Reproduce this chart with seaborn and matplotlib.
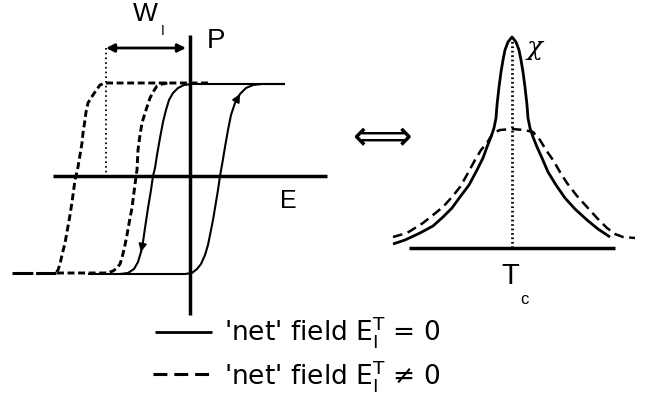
import numpy as np
import matplotlib
matplotlib.use("Agg")
import matplotlib.pyplot as plt
import seaborn as sns

# values read off the schematic (image pixel space, y grows downward)
# hysteresis loop, 'net' field = 0 (solid)
solid_down_x = [285, 257, 192, 184, 178, 173, 169, 166, 163, 160, 157, 155, 153, 151, 148, 145, 143, 141, 138, 134, 128, 120]
solid_down_y = [84, 84, 84, 85, 88, 93, 100, 110, 122, 138, 155, 168, 176, 190, 208, 228, 242, 252, 262, 269, 273, 274]
solid_up_x = [88, 185, 192, 197, 201, 205, 208, 210, 213, 215, 218, 220, 222, 225, 228, 231, 235, 240, 246, 253, 262, 285]
solid_up_y = [274, 274, 273, 269, 264, 255, 245, 235, 220, 208, 190, 176, 165, 147, 130, 115, 103, 94, 88, 85, 84, 84]

# hysteresis loop, 'net' field != 0 (dashed), shifted by W_I
dash_down_x = [208, 105, 100, 95, 91, 88, 86, 85, 83, 82, 80, 78, 76, 75, 73, 72, 70, 67, 65, 62, 60, 58, 56]
dash_down_y = [83, 83, 85, 92, 98, 103, 112, 120, 133, 143, 155, 167, 176, 180, 195, 202, 215, 232, 243, 255, 264, 270, 273]
dash_up_x = [57, 107, 113, 117, 120, 122, 125, 127, 130, 132, 134, 135, 136, 137, 138, 140, 142, 145, 147, 150, 153, 157, 162, 168]
dash_up_y = [273, 273, 271, 268, 264, 258, 245, 235, 218, 208, 192, 185, 176, 170, 150, 135, 123, 113, 107, 98, 92, 86, 84, 83]
dash_tail_x = [12, 56]
dash_tail_y = [273, 273]

# susceptibility chi(T)
chi_solid_x = [393, 405, 420, 433, 443, 452, 460, 469, 477, 483, 487, 491, 494, 496, 497, 499, 501, 503, 505, 508, 512,
               516, 519, 521, 523, 525, 527, 528, 530, 533, 537, 542, 548, 556, 565, 575, 587, 598, 610]
chi_solid_y = [244, 240, 233, 226, 217, 208, 197, 185, 170, 158, 147, 137, 128, 118, 105, 87, 72, 60, 50, 42, 37,
               42, 50, 60, 72, 87, 105, 118, 128, 137, 147, 158, 172, 185, 198, 209, 220, 229, 237]
chi_dash_x = [393, 407, 423, 433, 443, 452, 460, 468, 475, 481, 487, 493, 500, 512, 524, 533, 540, 546, 553, 560,
              567, 577, 587, 597, 607, 615, 623, 635]
chi_dash_y = [237, 233, 223, 215, 207, 197, 187, 173, 160, 150, 143, 133, 130, 129, 130, 132, 140, 150, 160, 172,
              183, 196, 207, 218, 228, 234, 237, 238]

legend_labels = ["'net' field E$_I^T$ = 0", "'net' field E$_I^T$ ≠ 0"]

sns.set_theme(style="white")
plt.rcParams["font.family"] = ["Liberation Sans", "DejaVu Sans"]
plt.rcParams["text.color"] = "black"
plt.rcParams["mathtext.default"] = "regular"
plt.rcParams["lines.scale_dashes"] = False
plt.rcParams["lines.solid_capstyle"] = "butt"

fig = plt.figure(figsize=(6.57, 4.09), dpi=100)
ax = fig.add_axes([0, 0, 1, 1])
ax.set_xlim(0, 657)
ax.set_ylim(409, 0)
ax.axis("off")

k = "black"
# axes of the P-E panel
ax.plot([53, 327], [176, 176], color=k, lw=2.5)
ax.plot([190, 190], [35, 315], color=k, lw=2.5)

# loops
for xs, ys in [(solid_down_x, solid_down_y), (solid_up_x, solid_up_y)]:
    sns.lineplot(x=xs, y=ys, sort=False, estimator=None, color=k, lw=1.5, ax=ax)
for xs, ys in [(dash_down_x, dash_down_y), (dash_up_x, dash_up_y)]:
    sns.lineplot(x=xs, y=ys, sort=False, estimator=None, color=k, lw=2.1,
                 linestyle=(0, (5, 2.6)), ax=ax)
sns.lineplot(x=dash_tail_x, y=dash_tail_y, sort=False, estimator=None, color=k, lw=2.2,
             linestyle=(0, (15, 2)), ax=ax)

# direction arrows on the solid loop
for xs, ys, i in [(solid_down_x, solid_down_y, 16), (solid_up_x, solid_up_y, 16)]:
    ax.annotate("", xy=(xs[i + 1], ys[i + 1]), xytext=(xs[i], ys[i]),
                arrowprops=dict(arrowstyle="-|>", color=k, lw=1.2, mutation_scale=12,
                                shrinkA=0, shrinkB=0))

# W_I offset marker
ax.plot([106, 106], [48, 176], color=k, lw=1.3, linestyle=(0, (1.2, 2.2)))
ax.annotate("", xy=(106, 48), xytext=(186, 48),
            arrowprops=dict(arrowstyle="<|-|>", color=k, lw=2.0, mutation_scale=12,
                            shrinkA=0, shrinkB=0))

ax.text(145, 14, "W", fontsize=19, ha="center", va="center")
ax.text(163, 31, "I", fontsize=10, ha="center", va="center")
ax.text(216, 41, "P", fontsize=20, ha="center", va="center")
ax.text(288, 201, "E", fontsize=18, ha="center", va="center")

# chi(T) panel
ax.plot([409, 615], [248, 248], color=k, lw=2.5)
ax.plot([512, 512], [37, 248], color=k, lw=2.0, linestyle=(0, (1.2, 2.0)))
sns.lineplot(x=chi_solid_x, y=chi_solid_y, sort=False, estimator=None, color=k, lw=2.0, ax=ax)
sns.lineplot(x=chi_dash_x, y=chi_dash_y, sort=False, estimator=None, color=k, lw=1.8,
             linestyle=(0, (7, 4)), ax=ax)
ax.text(535, 48, "χ", fontsize=19, ha="center", va="center", family="DejaVu Serif", style="italic")
ax.text(510, 276, "T", fontsize=21, ha="center", va="center")
ax.text(524, 300, "c", fontsize=12, ha="center", va="center")

ax.text(383, 138, "⟺", fontsize=30, ha="center", va="center", family="DejaVu Sans")

# legend
ax.plot([155, 212], [332, 332], color=k, lw=2.0)
ax.plot([153, 212], [374, 374], color=k, lw=2.2, linestyle=(0, (10, 5)))
for label, base in zip(legend_labels, [340, 384]):
    ax.text(224, base, label, fontsize=19, ha="left", va="baseline", family="DejaVu Sans")

fig.savefig("out.png", dpi=100)
